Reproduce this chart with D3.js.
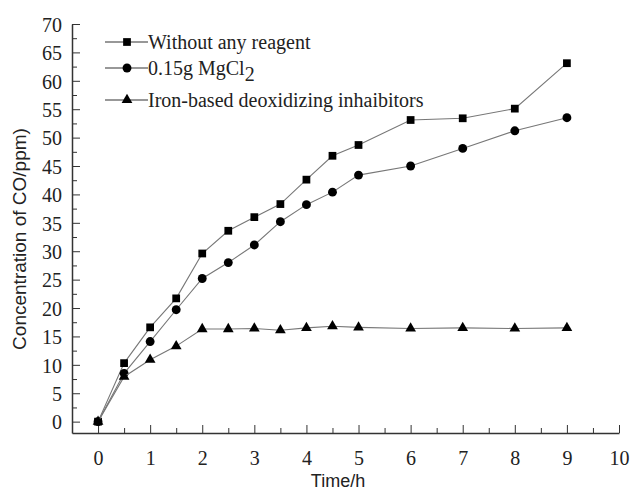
<!DOCTYPE html>
<html>
<head>
<meta charset="utf-8">
<script src="https://cdn.jsdelivr.net/npm/d3@7"></script>
<style>
  body { margin: 0; background: #fff; }
  .tick text { font-family: "Liberation Serif", "Times New Roman", serif; font-size: 20px; fill: #222; }
  .axis path, .axis line { stroke: #333; }
</style>
</head>
<body>
<div id="chart"></div>
<script>
// sampling times (h)
const times = [0, 0.5, 1, 1.5, 2, 2.5, 3, 3.5, 4, 4.5, 5, 6, 7, 8, 9];

// CO concentration (ppm)
const noReagent = [0, 10.3, 16.6, 21.7, 29.6, 33.6, 36.0, 38.3, 42.6, 46.8, 48.7, 53.1, 53.4, 55.1, 63.1];
const mgcl2 = [0, 8.5, 14.1, 19.7, 25.2, 28.0, 31.1, 35.2, 38.2, 40.4, 43.4, 45.0, 48.1, 51.2, 53.5];
const ironBased = [0, 7.9, 10.9, 13.3, 16.3, 16.3, 16.4, 16.1, 16.5, 16.8, 16.6, 16.4, 16.5, 16.4, 16.5];

const xTicks = [0, 1, 2, 3, 4, 5, 6, 7, 8, 9, 10];
const yTicks = [0, 5, 10, 15, 20, 25, 30, 35, 40, 45, 50, 55, 60, 65, 70];

const series = [
  { name: "Without any reagent", values: noReagent, symbol: d3.symbolSquare, size: 60 },
  { name: "0.15g MgCl", sub: "2", values: mgcl2, symbol: d3.symbolCircle, size: 62 },
  { name: "Iron-based deoxidizing inhaibitors", values: ironBased, symbol: d3.symbolTriangle, size: 50 }
];

const width = 630, height = 493;
const margin = { top: 24, right: 11, bottom: 60, left: 72 };

const svg = d3.select("#chart").append("svg")
    .attr("width", width)
    .attr("height", height);

const xScale = d3.scaleLinear()
    .domain([-0.5, 10])
    .range([margin.left, width - margin.right]);

const yScale = d3.scaleLinear()
    .domain([-2, 70])
    .range([height - margin.bottom, margin.top]);

// minor ticks first so the major ones sit on top
svg.append("g")
    .attr("class", "axis")
    .attr("transform", "translate(0," + yScale(-2) + ")")
    .call(d3.axisBottom(xScale).tickValues(d3.range(0.5, 10, 1)).tickSize(-5).tickFormat(""))
    .call(g => g.select(".domain").remove());

svg.append("g")
    .attr("class", "axis")
    .attr("transform", "translate(" + xScale(-0.5) + ",0)")
    .call(d3.axisLeft(yScale).tickValues(d3.range(2.5, 70, 5)).tickSize(-5).tickFormat(""))
    .call(g => g.select(".domain").remove());

// x axis
svg.append("g")
    .attr("class", "axis")
    .attr("transform", "translate(0," + yScale(-2) + ")")
    .call(d3.axisBottom(xScale).tickValues(xTicks).tickSize(-8).tickSizeOuter(0).tickPadding(18))
    .call(g => g.select(".domain").attr("stroke-width", 1.5));

// y axis
svg.append("g")
    .attr("class", "axis")
    .attr("transform", "translate(" + xScale(-0.5) + ",0)")
    .call(d3.axisLeft(yScale).tickValues(yTicks).tickSize(-8).tickSizeOuter(0).tickPadding(10))
    .call(g => g.select(".domain").attr("stroke-width", 1.5))
    .call(g => g.selectAll(".tick text").attr("dy", "0.36em"));

// axis titles
svg.append("text")
    .attr("x", 338)
    .attr("y", 487)
    .attr("text-anchor", "middle")
    .style("font-family", "'Liberation Sans', Arial, sans-serif")
    .style("font-size", "18px")
    .style("fill", "#222")
    .text("Time/h");

svg.append("text")
    .attr("transform", "translate(26,239) rotate(-90)")
    .attr("text-anchor", "middle")
    .style("font-family", "'Liberation Sans', Arial, sans-serif")
    .style("font-size", "19px")
    .style("fill", "#222")
    .text("Concentration of CO/ppm)");

// lines and markers
const line = d3.line()
    .x((d, i) => xScale(times[i]))
    .y(d => yScale(d));

series.forEach(s => {
  svg.append("path")
      .datum(s.values)
      .attr("fill", "none")
      .attr("stroke", "#777")
      .attr("stroke-width", 1.1)
      .attr("d", line);

  svg.selectAll(null)
      .data(s.values)
      .enter().append("path")
      .attr("transform", (d, i) => "translate(" + xScale(times[i]) + "," + yScale(d) + ")")
      .attr("d", d3.symbol().type(s.symbol).size(s.size))
      .attr("fill", "#000");
});

// legend
const legendRows = [42, 68, 100];
const legend = svg.append("g");

series.forEach((s, i) => {
  const row = legend.append("g").attr("transform", "translate(105," + legendRows[i] + ")");
  row.append("line")
      .attr("x1", 0).attr("x2", 43)
      .attr("stroke", "#333")
      .attr("stroke-width", 1.1);
  row.append("path")
      .attr("transform", "translate(22,0)")
      .attr("d", d3.symbol().type(s.symbol).size(s.size))
      .attr("fill", "#000");
  const label = row.append("text")
      .attr("x", 43)
      .attr("y", 6.5)
      .style("font-family", "'Liberation Serif', 'Times New Roman', serif")
      .style("font-size", "20px")
      .style("fill", "#222")
      .text(s.name);
  if (s.sub) {
    label.append("tspan")
        .attr("dy", 6)
        .text(s.sub);
  }
});
</script>
</body>
</html>
